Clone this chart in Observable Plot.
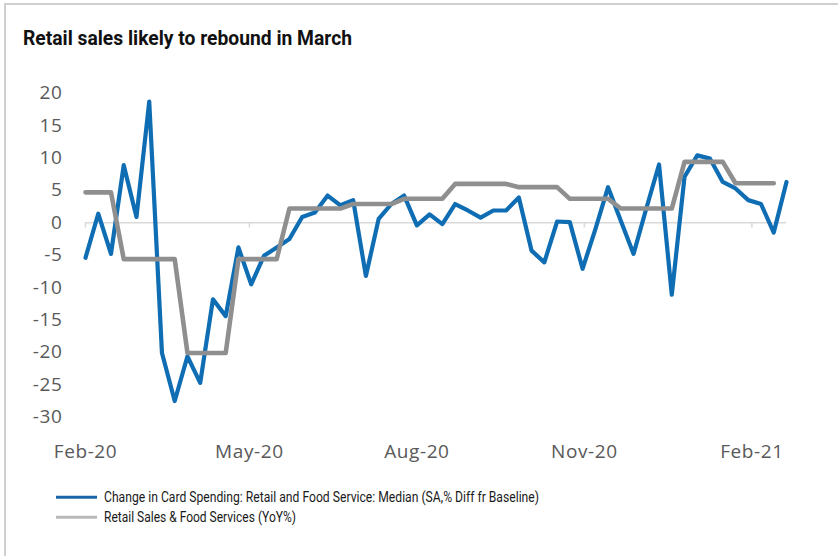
<!DOCTYPE html>
<html>
<head>
<meta charset="utf-8">
<script src="https://cdn.jsdelivr.net/npm/d3@7"></script>
<script src="https://cdn.jsdelivr.net/npm/@observablehq/plot@0.6"></script>
<style>
  body { margin: 0; background: #fff; }
  #wrap { position: relative; width: 838px; height: 556px; overflow: hidden; background: #fff; }
  #frame { position: absolute; left: 4px; top: 3px; width: 900px; height: 700px;
           border-left: 2px solid #d0d0d0; border-top: 2px solid #d0d0d0; }
  #chart { position: absolute; left: 0; top: 0; }
  #title { position: absolute; left: 0; top: 0; }
  #legend { position: absolute; left: 0; top: 480px; }
  #chart svg text { letter-spacing: 0.6px; }
</style>
</head>
<body>
<div id="wrap">
  <div id="frame"></div>
  <div id="chart"></div>
  <svg id="title" width="838" height="70"></svg>
  <svg id="legend" width="838" height="76"></svg>
</div>
<script>
// ---- data ----
const titleText = "Retail sales likely to rebound in March";
const firstWeek = "2020-02-01";
// Change in Card Spending: Retail and Food Service: Median (SA, % diff fr baseline), weekly
const cardSpending = [
  -5.4, 1.4, -4.8, 8.9, 0.9, 18.7, -20.1, -27.5, -20.6, -24.7,
  -11.8, -14.4, -3.8, -9.5, -5.1, -3.8, -2.5, 0.9, 1.6, 4.2,
  2.7, 3.5, -8.2, 0.6, 2.9, 4.2, -0.4, 1.3, -0.2, 2.9,
  1.9, 0.8, 1.9, 1.9, 3.9, -4.3, -6.1, 0.2, 0.1, -7.1,
  -1.0, 5.5, 0.3, -4.8, 2.2, 9.0, -11.1, 7.1, 10.4, 9.9,
  6.3, 5.3, 3.5, 2.9, -1.5, 6.3
];
// Retail Sales & Food Services (YoY%), monthly value repeated on the weekly axis
const retailSalesYoY = [
  4.7, 4.7, 4.7, -5.6, -5.6, -5.6, -5.6, -5.6, -20.1, -20.1,
  -20.1, -20.1, -5.6, -5.6, -5.6, -5.6, 2.2, 2.2, 2.2, 2.2,
  2.2, 2.9, 2.9, 2.9, 2.9, 3.7, 3.7, 3.7, 3.7, 6.0,
  6.0, 6.0, 6.0, 6.0, 5.5, 5.5, 5.5, 5.5, 3.7, 3.7,
  3.7, 3.7, 2.2, 2.2, 2.2, 2.2, 2.2, 9.4, 9.4, 9.4,
  9.4, 6.1, 6.1, 6.1, 6.1
];
const seriesNames = [
  "Change in Card Spending: Retail and Food Service: Median (SA,% Diff fr Baseline)",
  "Retail Sales & Food Services (YoY%)"
];
const seriesColors = ["#0f6db3", "#8f8f8f"];
const legendColors = ["#1864a6", "#b9b9b9"];
const xTickDates = ["2020-02-01", "2020-05-01", "2020-08-01", "2020-11-01", "2021-02-01"];
const yTicks = [20, 15, 10, 5, 0, -5, -10, -15, -20, -25, -30];

// ---- build tables ----
const start = new Date(firstWeek + "T00:00:00Z");
const cardData = cardSpending.map((v, i) => ({date: d3.utcDay.offset(start, 7 * i), value: v}));
const salesData = retailSalesYoY.map((v, i) => ({date: d3.utcDay.offset(start, 7 * i), value: v}));
const xTicks = xTickDates.map(s => new Date(s + "T00:00:00Z"));

const chart = Plot.plot({
  width: 838,
  height: 480,
  marginLeft: 85,
  marginRight: 52,
  marginTop: 92.7,
  marginBottom: 63.3,
  style: {fontFamily: "'Open Sans', sans-serif", fontSize: "19px", color: "#595959", background: "transparent"},
  x: {type: "utc", domain: [cardData[0].date, cardData[cardData.length - 1].date], label: null},
  y: {domain: [-30, 20], label: null},
  marks: [
    Plot.ruleY([0], {stroke: "#d9d9d9", strokeWidth: 1.6}),
    Plot.ruleX(xTicks, {x: d => d, y1: 0, y2: -0.8, stroke: "#d9d9d9", strokeWidth: 1.6}),
    Plot.axisX({ticks: xTicks, tickFormat: d3.utcFormat("%b-%y"), tickSize: 0, tickPadding: 27, fill: "#595959", label: null}),
    Plot.axisY({ticks: yTicks, tickFormat: d => String(d), tickSize: 0, tickPadding: 23, fill: "#595959", label: null}),
    Plot.line(cardData, {x: "date", y: "value", stroke: seriesColors[0], strokeWidth: 4.2}),
    Plot.line(salesData, {x: "date", y: "value", stroke: seriesColors[1], strokeWidth: 4.6})
  ]
});
document.getElementById("chart").appendChild(chart);

// ---- title ----
const title = d3.select("#title");
title.append("text")
  .attr("x", 23).attr("y", 45)
  .attr("textLength", 329).attr("lengthAdjust", "spacingAndGlyphs")
  .style("font-family", "Roboto, sans-serif").style("font-weight", 700).style("font-size", "20.5px")
  .attr("fill", "#111")
  .text(titleText);

// ---- legend ----
const legend = d3.select("#legend");
const legendWidths = [435, 192];
seriesNames.forEach((name, i) => {
  const cy = 17.3 + i * 20;
  legend.append("line").attr("x1", 56).attr("x2", 97).attr("y1", cy).attr("y2", cy)
    .attr("stroke", legendColors[i]).attr("stroke-width", 3);
  legend.append("text").attr("x", 104).attr("y", cy).attr("dy", "0.36em")
    .attr("textLength", legendWidths[i]).attr("lengthAdjust", "spacingAndGlyphs")
    .style("font-family", "Roboto, sans-serif").style("font-size", "14px")
    .attr("fill", "#1a1a1a")
    .text(name);
});
</script>
</body>
</html>
